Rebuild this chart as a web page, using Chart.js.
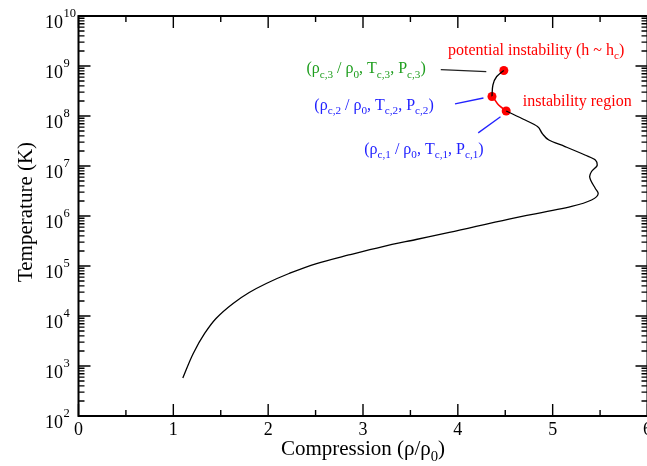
<!DOCTYPE html>
<html>
<head>
<meta charset="utf-8">
<script src="https://cdn.jsdelivr.net/npm/chart.js@4.4.1/dist/chart.umd.min.js"></script>
<style>
  html, body { margin: 0; padding: 0; background: #fff; overflow: hidden; }
  #wrap { width: 652px; height: 466px; }
</style>
</head>
<body>
<div id="wrap"><canvas id="chart" width="652" height="466"></canvas></div>
<script>
// main branch of the curve (black), from low compression up to the first critical point
const compression = [1.10, 1.21, 1.33, 1.45, 1.63, 1.80, 1.98, 2.22, 2.51, 2.85, 3.21, 3.56, 3.91,
  4.54, 5.20, 5.41, 5.48, 5.45, 5.40, 5.39, 5.41, 5.47, 5.45, 5.34, 5.13, 4.96, 4.89, 4.84, 4.71, 4.51];
const temperature = [575, 1780, 4470, 8910, 17800, 29500, 44700, 70800, 1.12e5, 1.66e5, 2.45e5, 3.39e5, 4.68e5,
  8.7e5, 1.55e6, 2.09e6, 2.82e6, 3.55e6, 5.25e6, 6.17e6, 7.76e6, 1.05e7, 1.32e7, 1.66e7, 2.45e7, 3.31e7,
  4.47e7, 6.17e7, 8.32e7, 1.26e8];

// instability region (red)
const unstableCompression = [4.51, 4.43, 4.38, 4.36];
const unstableTemperature = [1.26e8, 1.66e8, 2.24e8, 2.45e8];

// upper branch (black) towards the potential instability
const upperCompression = [4.36, 4.37, 4.41, 4.485];
const upperTemperature = [2.45e8, 4.17e8, 6.17e8, 8.13e8];

// critical points 1, 2, 3
const criticalCompression = [4.51, 4.36, 4.485];
const criticalTemperature = [1.26e8, 2.45e8, 8.13e8];

const xTicks = [0, 1, 2, 3, 4, 5, 6];
const yTickExponents = [2, 3, 4, 5, 6, 7, 8, 9, 10];

const SERIF = '"Liberation Serif", "Times New Roman", serif';
const GREEN = '#1e9e1e';
const BLUE = '#2222ff';
const RED = '#ff0000';

// labels placed in data coordinates: [compression, temperature] of the text's left baseline
const annotations = [
  { at: [3.896, 1.66e9], color: RED, parts: [['potential instability (h ~ h', 0], ['c', 1], [')', 0]] },
  { at: [4.685, 1.62e8], color: RED, parts: [['instability region', 0]] },
  { at: [2.403, 7.1e8], color: GREEN, parts: [['(ρ', 0], ['c,3', 1], [' / ρ', 0], ['0', 1], [', T', 0], ['c,3', 1], [', P', 0], ['c,3', 1], [')', 0]] },
  { at: [2.487, 1.32e8], color: BLUE, parts: [['(ρ', 0], ['c,2', 1], [' / ρ', 0], ['0', 1], [', T', 0], ['c,2', 1], [', P', 0], ['c,2', 1], [')', 0]] },
  { at: [3.013, 1.74e7], color: BLUE, parts: [['(ρ', 0], ['c,1', 1], [' / ρ', 0], ['0', 1], [', T', 0], ['c,1', 1], [', P', 0], ['c,1', 1], [')', 0]] }
];
const leaders = [
  { from: [3.82, 8.5e8], to: [4.30, 7.7e8], color: '#222' },
  { from: [3.97, 1.74e8], to: [4.27, 2.29e8], color: BLUE },
  { from: [4.215, 4.6e7], to: [4.45, 9.7e7], color: BLUE }
];

function pts(xs, ys) { return xs.map((x, i) => ({ x: x, y: ys[i] })); }

function richWidth(ctx, parts, size) {
  let w = 0;
  parts.forEach(([t, sub]) => {
    ctx.font = (sub ? size * 0.7 : size) + 'px ' + SERIF;
    w += ctx.measureText(t).width;
  });
  return w;
}
function drawRich(ctx, x, y, parts, size) {
  parts.forEach(([t, sub]) => {
    ctx.font = (sub ? size * 0.7 : size) + 'px ' + SERIF;
    ctx.fillText(t, x, sub ? y + size * 0.27 : y);
    x += ctx.measureText(t).width;
  });
}

const framePlugin = {
  id: 'frame',
  afterDraw(chart) {
    const ctx = chart.ctx, a = chart.chartArea;
    const xs = chart.scales.x, ys = chart.scales.y;
    ctx.save();

    // leader lines and labels
    leaders.forEach(l => {
      ctx.strokeStyle = l.color;
      ctx.lineWidth = 1.3;
      ctx.beginPath();
      ctx.moveTo(xs.getPixelForValue(l.from[0]), ys.getPixelForValue(l.from[1]));
      ctx.lineTo(xs.getPixelForValue(l.to[0]), ys.getPixelForValue(l.to[1]));
      ctx.stroke();
    });
    ctx.textBaseline = 'alphabetic';
    ctx.textAlign = 'left';
    annotations.forEach(n => {
      ctx.fillStyle = n.color;
      drawRich(ctx, xs.getPixelForValue(n.at[0]), ys.getPixelForValue(n.at[1]), n.parts, 16);
    });

    // frame
    ctx.strokeStyle = '#000';
    ctx.lineWidth = 2;
    ctx.strokeRect(a.left, a.top, a.right - a.left, a.bottom - a.top);

    // ticks, pointing inwards on all four sides
    ctx.lineWidth = 1.4;
    ctx.beginPath();
    for (let v = 0; v <= 6; v += 0.5) {
      const px = xs.getPixelForValue(v);
      const len = Number.isInteger(v) ? 12 : 6;
      ctx.moveTo(px, a.bottom); ctx.lineTo(px, a.bottom - len);
      ctx.moveTo(px, a.top); ctx.lineTo(px, a.top + len);
    }
    yTickExponents.forEach(e => {
      for (let m = 1; m <= 9; m++) {
        if (e === 10 && m > 1) break;
        const py = ys.getPixelForValue(m * Math.pow(10, e));
        const len = m === 1 ? 12 : 6;
        ctx.moveTo(a.left, py); ctx.lineTo(a.left + len, py);
        ctx.moveTo(a.right, py); ctx.lineTo(a.right - len, py);
      }
    });
    ctx.stroke();

    // tick labels
    ctx.fillStyle = '#000';
    ctx.textAlign = 'center';
    ctx.textBaseline = 'middle';
    ctx.font = '18px ' + SERIF;
    xTicks.forEach(v => ctx.fillText(String(v), xs.getPixelForValue(v), a.bottom + 14));
    ctx.textBaseline = 'alphabetic';
    yTickExponents.forEach(e => {
      const py = ys.getPixelForValue(Math.pow(10, e));
      ctx.textAlign = 'right';
      ctx.font = '18px ' + SERIF;
      ctx.fillText('10', a.left - 15.5, py + 12);
      ctx.textAlign = 'left';
      ctx.font = '12.5px ' + SERIF;
      ctx.fillText(String(e), a.left - 15, py + 0.5);
    });

    // axis titles
    const xt = [['Compression (ρ/ρ', 0], ['0', 1], [')', 0]];
    const w = richWidth(ctx, xt, 21);
    ctx.textAlign = 'left';
    drawRich(ctx, (a.left + a.right) / 2 - w / 2, 455, xt, 21);
    ctx.translate(32, 212);
    ctx.rotate(-Math.PI / 2);
    ctx.textAlign = 'center';
    ctx.font = '21px ' + SERIF;
    ctx.fillText('Temperature (K)', 0, 0);
    ctx.restore();
  }
};

// the curve rises monotonically in temperature, so it is splined along the y axis
const curveStyle = { pointRadius: 0, fill: false, indexAxis: 'y', cubicInterpolationMode: 'monotone' };

new Chart(document.getElementById('chart'), {
  type: 'line',
  data: {
    datasets: [
      Object.assign({ data: pts(compression, temperature), borderColor: '#000', borderWidth: 1.3 }, curveStyle),
      Object.assign({ data: pts(unstableCompression, unstableTemperature), borderColor: RED, borderWidth: 1.6 }, curveStyle),
      Object.assign({ data: pts(upperCompression, upperTemperature), borderColor: '#000', borderWidth: 1.3 }, curveStyle),
      { data: pts(criticalCompression, criticalTemperature), showLine: false, pointRadius: 4.5, indexAxis: 'y',
        pointBackgroundColor: RED, pointBorderColor: RED, pointBorderWidth: 0 }
    ]
  },
  options: {
    responsive: false,
    animation: false,
    events: [],
    layout: { padding: { left: 78.5, top: 16, right: 3, bottom: 50 } },
    plugins: { legend: { display: false }, tooltip: { enabled: false } },
    scales: {
      x: { type: 'linear', min: 0, max: 6, display: false },
      y: { type: 'logarithmic', min: 100, max: 1e10, display: false }
    }
  },
  plugins: [framePlugin]
});
</script>
</body>
</html>
